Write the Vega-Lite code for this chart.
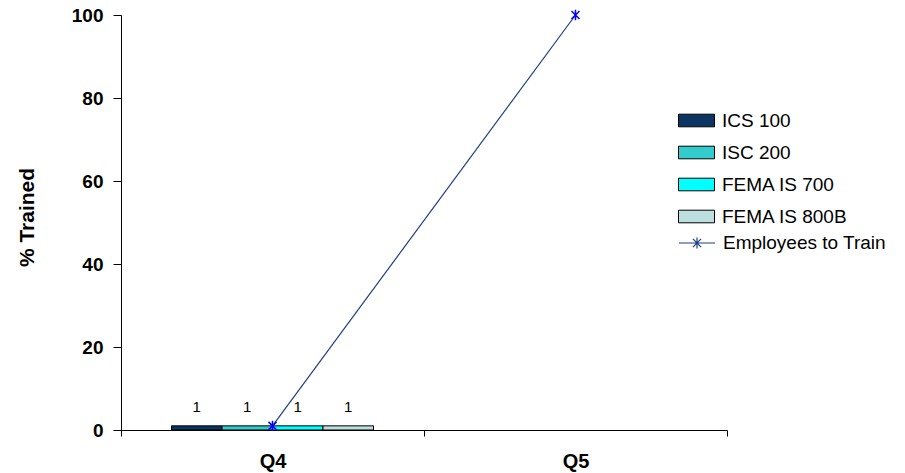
{
  "$schema": "https://vega.github.io/schema/vega-lite/v6.json",
  "width": 606,
  "height": 415,
  "autosize": {"type": "none"},
  "padding": {"left": 121, "top": 15, "right": 178, "bottom": 43},
  "background": "white",
  "config": {
    "view": {"stroke": null},
    "font": "Liberation Sans",
    "axis": {"domainColor": "black", "tickColor": "black", "labelColor": "black", "titleColor": "black", "grid": false}
  },
  "datasets": {
    "bars": [
      {"quarter": "Q4", "course": "ICS 100", "value": 1},
      {"quarter": "Q4", "course": "ISC 200", "value": 1},
      {"quarter": "Q4", "course": "FEMA IS 700", "value": 1},
      {"quarter": "Q4", "course": "FEMA IS 800B", "value": 1}
    ],
    "line": [
      {"quarter": "Q4", "series": "Employees to Train", "value": 1},
      {"quarter": "Q5", "series": "Employees to Train", "value": 100}
    ]
  },
  "encoding": {
    "x": {
      "field": "quarter", "type": "nominal",
      "scale": {"domain": ["Q4", "Q5"], "paddingInner": 0, "paddingOuter": 0},
      "axis": {"title": null, "labelAngle": 0, "labelFontSize": 20, "labelFontWeight": "bold", "tickBand": "extent", "tickSize": 6, "labelPadding": 15, "domainWidth": 1}
    },
    "y": {
      "field": "value", "type": "quantitative",
      "scale": {"domain": [0, 100], "nice": false},
      "axis": {"values": [0, 20, 40, 60, 80, 100], "title": "% Trained", "titleFontSize": 21, "titleFontWeight": "bold", "titleAngle": -90, "titleAlign": "center", "titleBaseline": "middle", "titleX": -94, "titleY": 202, "labelFontSize": 19, "labelFontWeight": "bold", "tickSize": 8, "labelPadding": 10}
    }
  },
  "layer": [
    {
      "data": {"name": "bars"},
      "mark": {"type": "bar", "stroke": "black", "strokeWidth": 1},
      "encoding": {
        "xOffset": {"field": "course", "type": "nominal", "scale": {"domain": ["ICS 100", "ISC 200", "FEMA IS 700", "FEMA IS 800B"], "paddingInner": 0, "paddingOuter": 1}},
        "color": {
          "field": "course", "type": "nominal",
          "scale": {"domain": ["ICS 100", "ISC 200", "FEMA IS 700", "FEMA IS 800B"], "range": ["#0C3563", "#33CCCC", "#00FFFF", "#BEDFE0"]},
          "legend": {"title": null, "orient": "none", "legendX": 566, "legendY": 96, "padding": 0, "labelFontSize": 19, "labelLimit": 300, "labelColor": "black", "labelOffset": 16, "rowPadding": 12, "symbolType": "M-2,-0.7H2V0.7H-2Z", "symbolSize": 324, "symbolStrokeColor": "black", "symbolStrokeWidth": 1, "symbolOpacity": 1}
        }
      }
    },
    {
      "data": {"name": "bars"},
      "mark": {"type": "text", "baseline": "alphabetic", "dy": -14, "fontSize": 15, "color": "black"},
      "encoding": {
        "xOffset": {"field": "course", "type": "nominal", "scale": {"domain": ["ICS 100", "ISC 200", "FEMA IS 700", "FEMA IS 800B"], "paddingInner": 0, "paddingOuter": 1}},
        "text": {"field": "value", "type": "quantitative"}
      }
    },
    {
      "data": {"name": "line"},
      "mark": {"type": "line", "strokeWidth": 1.2},
      "encoding": {
        "stroke": {
          "field": "series", "type": "nominal",
          "scale": {"range": ["#1F3F80"]},
          "legend": {"title": null, "orient": "none", "legendX": 566, "legendY": 218, "padding": 0, "labelFontSize": 19, "labelLimit": 300, "labelColor": "black", "labelOffset": 16, "symbolType": "M-2,0H2M-0.45,-0.45L0.45,0.45M-0.45,0.45L0.45,-0.45M0,-0.6V0.6", "symbolSize": 324, "symbolStrokeWidth": 1.2}
        }
      }
    },
    {
      "data": {"name": "line"},
      "mark": {"type": "point", "shape": "M-1,-1L1,1M-1,1L1,-1M0,-1.3V1.3", "size": 64, "filled": false, "stroke": "#0000FF", "strokeWidth": 1.5, "opacity": 1}
    }
  ]
}
